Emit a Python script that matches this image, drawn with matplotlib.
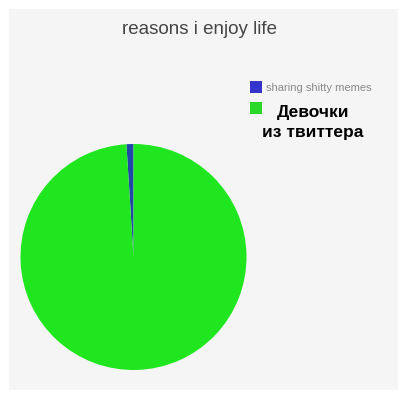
import matplotlib
matplotlib.use('Agg')
import matplotlib.pyplot as plt
from matplotlib.patches import Rectangle

plt.rcParams['font.family'] = ['Liberation Sans', 'DejaVu Sans']

# данные
title = 'reasons i enjoy life'
labels = ['sharing shitty memes', 'Девочки\nиз твиттера']
values = [1, 99]
colors = ['#2047a8', '#20e620']
legend_colors = ['#3535cc', '#2ad82a']

W, H = 407, 400
fig = plt.figure(figsize=(W / 100, H / 100), dpi=100, facecolor='white')

# серый фон картинки
fig.add_artist(Rectangle((9 / W, 10 / H), 389 / W, 381 / H, transform=fig.transFigure,
                         facecolor='#f5f5f5', edgecolor='none', zorder=0))

ax = fig.add_axes([20 / W, 30 / H, 227 / W, 226 / H])
ax.pie(values, colors=colors, startangle=90, counterclock=True,
       wedgeprops=dict(edgecolor='none'))
ax.set_xlim(-1, 1)
ax.set_ylim(-1, 1)
ax.axis('off')

fig.text(199 / W, 1 - 30 / H, title, ha='center', va='center', fontsize=13.5, color='#454545')

# легенда
fig.add_artist(Rectangle((250 / W, 1 - 93 / H), 12 / W, 12 / H, transform=fig.transFigure,
                         facecolor=legend_colors[0], edgecolor='none'))
fig.text(266 / W, 1 - 88 / H, labels[0], ha='left', va='center', fontsize=8, color='#8a8a8a')

fig.add_artist(Rectangle((250 / W, 1 - 114 / H), 12 / W, 12 / H, transform=fig.transFigure,
                         facecolor=legend_colors[1], edgecolor='none'))
fig.text(313 / W, 1 - 122.5 / H, labels[1], ha='center', va='center', multialignment='center',
         fontsize=12.5, fontweight='bold', color='black', linespacing=1.35)

fig.savefig('out.png', dpi=100, facecolor='white')
